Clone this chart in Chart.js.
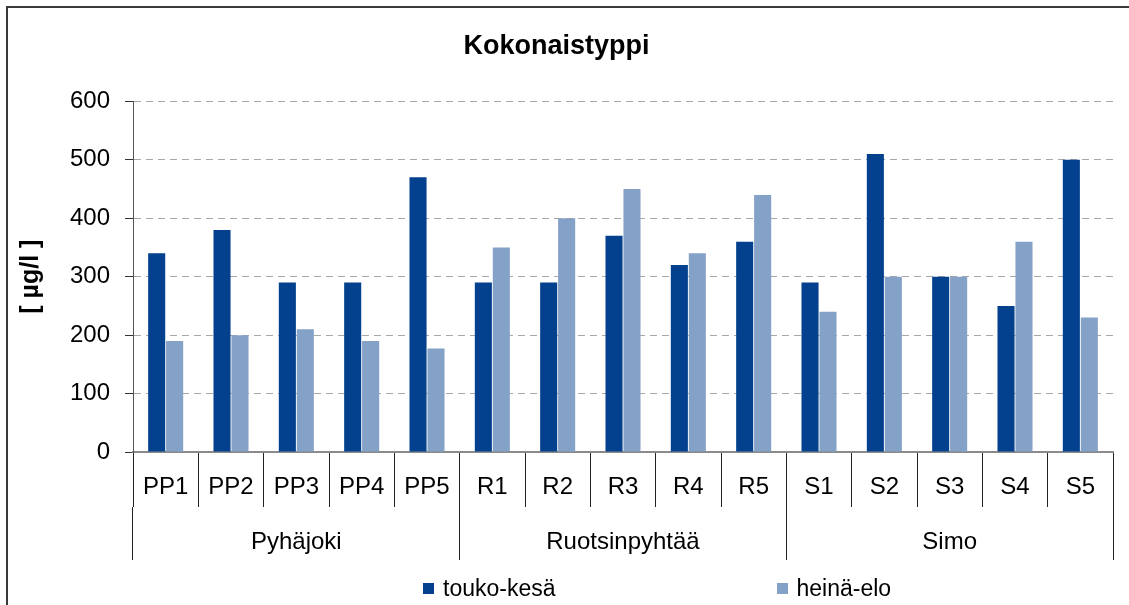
<!DOCTYPE html>
<html>
<head>
<meta charset="utf-8" />
<title>Kokonaistyppi</title>
<script src="https://cdn.jsdelivr.net/npm/chart.js@4.4.1/dist/chart.umd.min.js"></script>
<style>
  html, body { margin: 0; background: #fff; overflow: hidden; font-family: "Liberation Sans", Arial, sans-serif; }
  #wrap { position: relative; width: 1129px; height: 605px; overflow: hidden; }
  /* outer frame, cut off at right and bottom like the original */
  #frame { position: absolute; left: 6px; top: 6px; width: 1400px; height: 900px; border: 2px solid #3a3a3a; pointer-events: none; }
  #legend { position: absolute; left: 423px; top: 574px; display: flex; gap: 221px; font-size: 23px; line-height: 28px; color: #000; }
  #legend .item { display: flex; align-items: center; white-space: nowrap; }
  #legend .box { width: 11px; height: 11px; margin-right: 9px; display: inline-block; }
</style>
</head>
<body>
<div id="wrap">
  <canvas id="chart" width="1129" height="605"></canvas>
  <div id="frame"></div>
  <div id="legend"></div>
</div>
<script>
// stations and sampling areas
const stations = ["PP1", "PP2", "PP3", "PP4", "PP5", "R1", "R2", "R3", "R4", "R5", "S1", "S2", "S3", "S4", "S5"];
const areas = ["Pyhäjoki", "Ruotsinpyhtää", "Simo"];
const seriesNames = ["touko-kesä", "heinä-elo"];
// total nitrogen, µg/l
const toukoKesa = [340, 380, 290, 290, 470, 290, 290, 370, 320, 360, 290, 510, 300, 250, 500];
const heinaElo = [190, 200, 210, 190, 177, 350, 400, 450, 340, 440, 240, 300, 300, 360, 230];
const seriesColors = ["#03418e", "#84a1c7"];

Chart.defaults.font.family = '"Liberation Sans", Arial, sans-serif';
Chart.defaults.color = "#000";

const chart = new Chart(document.getElementById("chart").getContext("2d"), {
  type: "bar",
  data: {
    labels: stations,
    datasets: [
      { label: seriesNames[0], data: toukoKesa, backgroundColor: seriesColors[0] },
      { label: seriesNames[1], data: heinaElo, backgroundColor: seriesColors[1] },
    ],
  },
  options: {
    responsive: false,
    animation: false,
    barPercentage: 0.95,
    categoryPercentage: 0.55,
    layout: { padding: { left: 0, right: 16, top: 0, bottom: 45 } },
    plugins: {
      legend: { display: false },
      tooltip: { enabled: false },
      title: {
        display: true,
        text: "Kokonaistyppi",
        color: "#000",
        font: { size: 27, weight: "bold" },
        padding: { top: 30, bottom: 39 },
      },
    },
    scales: {
      x: {
        position: "bottom",
        weight: 0,
        offset: true,
        grid: { offset: true, drawOnChartArea: false, tickLength: 55, tickColor: "#222", tickWidth: 1 },
        border: { color: "#8a8a8a", width: 2 },
        ticks: { font: { size: 24 }, padding: -34, maxRotation: 0, autoSkip: false },
        afterFit: (s) => { s.height = 55; },
      },
      x2: {
        type: "category",
        labels: areas,
        position: "bottom",
        weight: 1,
        offset: true,
        grid: { offset: true, drawOnChartArea: false, tickLength: 53, tickColor: "#222", tickWidth: 1 },
        border: { display: false },
        ticks: { font: { size: 24 }, padding: -32, maxRotation: 0, autoSkip: false },
        afterFit: (s) => { s.height = 53; },
      },
      y: {
        min: 0,
        max: 600,
        ticks: { stepSize: 100, font: { size: 24 }, padding: 15 },
        grid: { color: "#a8a8a8", lineWidth: 1, tickLength: 8, tickColor: "#333", tickBorderDash: [] },
        border: { color: "#555", width: 1, dash: [7, 5] },
        title: {
          display: true,
          text: "[ µg/l ]",
          font: { size: 25, weight: "bold" },
          padding: { top: 16, bottom: 0 },
        },
        afterFit: (s) => { s.width = 133; },
      },
    },
  },
});

// legend below the chart, built from the datasets
const legend = document.getElementById("legend");
chart.data.datasets.forEach((ds) => {
  const item = document.createElement("div");
  item.className = "item";
  const box = document.createElement("span");
  box.className = "box";
  box.style.background = ds.backgroundColor;
  item.appendChild(box);
  item.appendChild(document.createTextNode(ds.label));
  legend.appendChild(item);
});
</script>
</body>
</html>
